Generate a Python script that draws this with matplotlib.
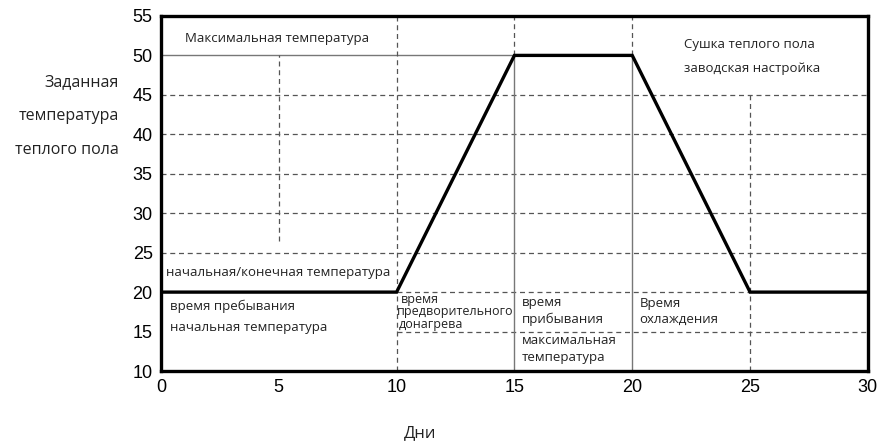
import matplotlib.pyplot as plt

# Профиль сушки теплого пола: дни и заданная температура
days = [0, 10, 15, 20, 25, 30]
temps = [20, 20, 50, 50, 20, 20]

x_ticks = [0, 5, 10, 15, 20, 25, 30]
y_ticks = [10, 15, 20, 25, 30, 35, 40, 45, 50, 55]

fig = plt.figure(figsize=(8.82, 4.43), dpi=100)
ax = fig.add_axes([0.1825, 0.1625, 0.8015, 0.8015])

txt_font = ['Open Sans', 'DejaVu Sans']
num_font = ['Liberation Sans', 'DejaVu Sans']
tc = '#222222'
dash = dict(color='#555555', lw=0.9, ls=(0, (4, 3)))
thin = dict(color='#777777', lw=1.0)

# горизонтальные пунктирные линии сетки
for t in [25, 30, 35, 40, 45]:
    ax.hlines(t, 0, 30, **dash)
ax.hlines(20, 10, 25, **dash)
ax.hlines(15, 10, 30, **dash)
ax.hlines(50, 0, 15, **thin)

# вертикальные линии
ax.vlines(5, 26.5, 50, **dash)
ax.vlines(10, 10, 55, **dash)
ax.vlines([15, 20], 10, 50, **thin)
ax.vlines([15, 20], 50, 55, **dash)
ax.vlines(25, 10, 45, **dash)

ax.plot(days, temps, color='black', lw=2.4, solid_joinstyle='miter')

ax.set_xlim(0, 30)
ax.set_ylim(10, 55)
ax.set_xticks(x_ticks)
ax.set_yticks(y_ticks)
ax.tick_params(length=0, labelsize=13, pad=6)
for lb in ax.get_xticklabels() + ax.get_yticklabels():
    lb.set_family(num_font)
for s in ax.spines.values():
    s.set_linewidth(2.4)


def note(x, y, s, size=9.5):
    ax.text(x, y, s, family=txt_font, fontsize=size, color=tc, va='center')


# подписи областей
note(1.0, 52.2, 'Максимальная температура')
note(22.2, 51.4, 'Сушка теплого пола')
note(22.2, 48.4, 'заводская настройка')
note(0.2, 22.5, 'начальная/конечная температура')
note(0.4, 18.2, 'время пребывания')
note(0.4, 15.5, 'начальная температура')
note(10.2, 19.0, 'время', 9)
note(10.0, 17.5, 'предворительного', 9)
note(10.1, 15.9, 'донагрева', 9)
note(15.3, 18.7, 'время')
note(15.3, 16.5, 'прибывания')
note(15.3, 13.9, 'максимальная')
note(15.3, 11.7, 'температура')
note(20.3, 18.6, 'Время')
note(20.3, 16.5, 'охлаждения')

# подписи осей
for i, line in enumerate(['Заданная', 'температура', 'теплого пола']):
    fig.text(119 / 882, 1 - (82 + i * 34) / 443, line, family=txt_font,
             fontsize=11.5, color=tc, ha='right', va='center')
fig.text(420 / 882, 1 - 433 / 443, 'Дни', family=txt_font, fontsize=12,
         color=tc, ha='center', va='center')

fig.savefig('out.png', dpi=100)
